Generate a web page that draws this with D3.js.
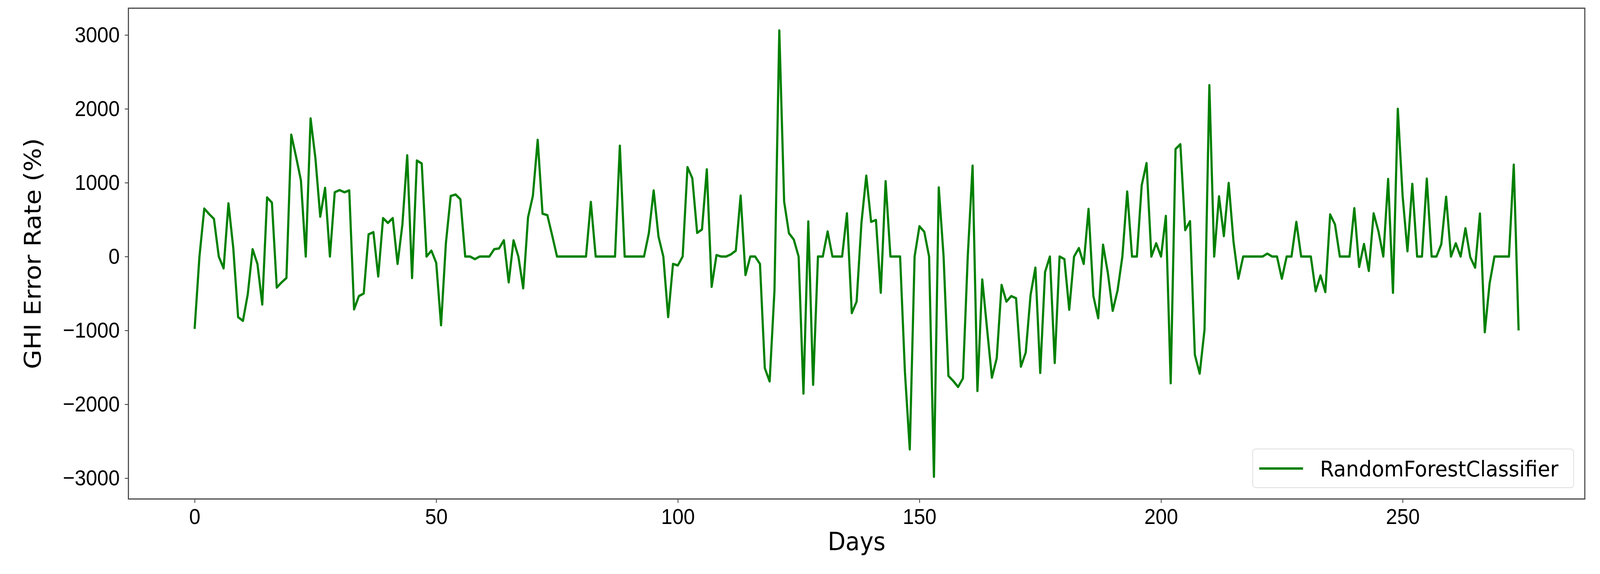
<!DOCTYPE html>
<html>
<head>
<meta charset="utf-8">
<script src="https://cdn.jsdelivr.net/npm/d3@7"></script>
<style>
  html, body { margin: 0; padding: 0; background: #fff; overflow: hidden; }
  svg { display: block; font-family: "DejaVu Sans", sans-serif; }
</style>
</head>
<body>
<div id="chart"></div>
<script>
// Data: GHI error rate per day
var seriesName = "RandomForestClassifier";
var errorRate = [
  -980, 0, 650, 575, 510, 0, -160, 720, 115, -820,
  -870, -510, 100, -100, -650, 800, 730, -420, -350, -290,
  1650, 1350, 1030, 0, 1870, 1330, 540, 930, 0, 870,
  900, 870, 895, -715, -535, -500, 300, 330, -270, 520,
  455, 520, -100, 435, 1370, -290, 1300, 1260, 0,
  80, -85, -930, 180, 820, 840, 775, 0, 0, -35,
  0, 0, 0, 100, 110, 220, -350, 220, 0, -430,
  530, 820, 1580, 580, 560, 285, 0, 0, 0, 0,
  0, 0, 0, 740, 0, 0, 0, 0, 0, 1500,
  0, 0, 0, 0, 0, 315, 895, 270, 0, -820,
  -100, -120, 0, 1210, 1060, 320, 367, 1180, -410, 20,
  0, 0, 30, 80, 825, -250, 0, 0, -100, -1510,
  -1690, -460, 3060, 745, 315, 230, 0, -1855, 475, -1735,
  0, 0, 340, 0, 0, 0, 585, -765, -610, 456,
  1095, 470, 495, -490, 1020, 0, 0, 0, -1565, -2610,
  0, 410, 335, 0, -2980, 935, 0, -1615, -1685, -1765,
  -1650, 0, 1230, -1820, -310, -980, -1640, -1375, -385, -610,
  -535, -565, -1490, -1300, -520, -150, -1575, -210, 0, -1440,
  0, -35, -720, 0, 115, -100, 645, -535, -835, 160,
  -225, -735, -460, 0, 880, 0, 0, 965, 1265, 0,
  180, 0, 550, -1715, 1455, 1520, 358, 478, -1330, -1585,
  -990, 2320, 0, 815, 277, 996, 200, -300, 0, 0,
  0, 0, 0, 40, 0, 0, -300, 0, 0, 470,
  0, 0, 0, -470, -255, -480, 570, 435, 0, 0,
  0, 655, -140, 170, -195, 585, 340, 0, 1050, -490,
  2000, 818, 72, 984, 0, 0, 1055, 0, 0, 167,
  810, 0, 180, 0, 383, -10, -150, 582, -1024, -363,
  0, 0, 0, 0, 1244, -1000
];
var xTicks = [0, 50, 100, 150, 200, 250];
var yTicks = [-3000, -2000, -1000, 0, 1000, 2000, 3000];

// Layout (drawn in reference pixel units, scaled to the window by viewBox)
var W = 4423, H = 1469;
var margin = {top: 21, right: 42, bottom: 192, left: 355};
var width = W - margin.left - margin.right;
var height = H - margin.top - margin.bottom;

var n = errorRate.length;
var xPad = (n - 1) * 0.05;
var yMin = d3.min(errorRate), yMax = d3.max(errorRate);
var yPad = (yMax - yMin) * 0.05;

var xScale = d3.scaleLinear().domain([-xPad, n - 1 + xPad]).range([0, width]);
var yScale = d3.scaleLinear().domain([yMin - yPad, yMax + yPad]).range([height, 0]);

var svg = d3.select("#chart").append("svg")
    .attr("width", window.innerWidth || W)
    .attr("height", window.innerHeight || H)
    .attr("viewBox", "0 0 " + W + " " + H)
    .attr("preserveAspectRatio", "none");

var g = svg.append("g")
    .attr("transform", "translate(" + margin.left + "," + margin.top + ")");

// Axes
var xAxis = d3.axisBottom(xScale).tickValues(xTicks).tickSize(10).tickPadding(14).tickFormat(d3.format("d"));
var yAxis = d3.axisLeft(yScale).tickValues(yTicks).tickSize(10).tickPadding(14)
    .tickFormat(function(d) { return d < 0 ? "\u2212" + Math.abs(d) : d; });

var gx = g.append("g")
    .attr("transform", "translate(0," + height + ")")
    .call(xAxis);
var gy = g.append("g").call(yAxis);

[gx, gy].forEach(function(a) {
  a.select(".domain").remove();
  a.selectAll(".tick line").attr("stroke", "#333").attr("stroke-width", 2);
  a.selectAll(".tick text").attr("fill", "#000").style("font-size", "56px");
});

// Line
var line = d3.line()
    .x(function(d, i) { return xScale(i); })
    .y(function(d) { return yScale(d); });

g.append("path")
    .datum(errorRate)
    .attr("fill", "none")
    .attr("stroke", "#008000")
    .attr("stroke-width", 6)
    .attr("stroke-linejoin", "round")
    .attr("d", line);

// Frame
g.append("rect")
    .attr("width", width)
    .attr("height", height)
    .attr("fill", "none")
    .attr("stroke", "#444")
    .attr("stroke-width", 3);

// Axis titles
svg.append("text")
    .attr("x", margin.left + width / 2)
    .attr("y", 1408)
    .attr("text-anchor", "middle")
    .style("font-size", "64px")
    .text("Days");

svg.append("text")
    .attr("transform", "translate(112," + (margin.top + height / 2) + ") rotate(-90)")
    .attr("text-anchor", "middle")
    .style("font-size", "64px")
    .text("GHI Error Rate (%)");

// Legend
var legend = svg.append("g").attr("transform", "translate(3463,1149)");
legend.append("rect")
    .attr("width", 887)
    .attr("height", 99)
    .attr("rx", 8)
    .attr("fill", "#fff")
    .attr("fill-opacity", 0.8)
    .attr("stroke", "#ddd")
    .attr("stroke-width", 2);
legend.append("line")
    .attr("x1", 18).attr("x2", 139)
    .attr("y1", 50).attr("y2", 50)
    .attr("stroke", "#008000")
    .attr("stroke-width", 6);
legend.append("text")
    .attr("x", 186)
    .attr("y", 70)
    .style("font-size", "56px")
    .text(seriesName);
</script>
</body>
</html>
